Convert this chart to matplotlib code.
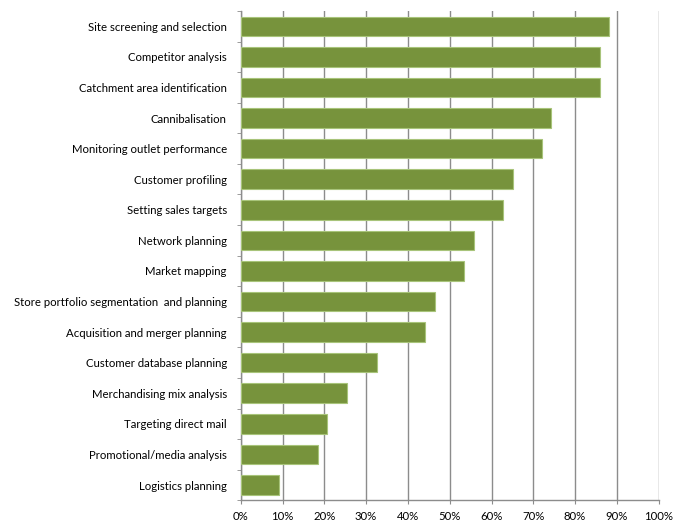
import numpy as np
import matplotlib
matplotlib.use('Agg')
from matplotlib import pyplot as plt
from matplotlib.ticker import FixedLocator, PercentFormatter

categories = [
    "Site screening and selection",
    "Competitor analysis",
    "Catchment area identification",
    "Cannibalisation",
    "Monitoring outlet performance",
    "Customer profiling",
    "Setting sales targets",
    "Network planning",
    "Market mapping",
    "Store portfolio segmentation  and planning",
    "Acquisition and merger planning",
    "Customer database planning",
    "Merchandising mix analysis",
    "Targeting direct mail",
    "Promotional/media analysis",
    "Logistics planning",
]
values = [88.2, 86.0, 86.0, 74.3, 72.1, 65.1, 62.8, 55.7, 53.5, 46.4, 44.2,
          32.5, 25.5, 20.7, 18.4, 9.2]

plt.rcParams['font.family'] = ['Lato', 'DejaVu Sans']

fig = plt.figure(figsize=(6.75, 5.26), dpi=100)
ax = fig.add_axes([240.7 / 675, 1 - 500.3 / 526, 418 / 675, (500.3 - 11) / 526])

n = len(categories)
y = np.arange(n)[::-1]
ax.barh(y, values, height=0.64, color='#77933C', edgecolor='#A8C47A',
        linewidth=0.8, zorder=3)

ax.set_xlim(0, 100)
ax.set_ylim(-0.5, n - 0.5)
ax.set_xticks(np.arange(0, 101, 10))
ax.xaxis.set_major_formatter(PercentFormatter(decimals=0))
ax.set_yticks(y)
ax.set_yticklabels(categories)
ax.yaxis.set_minor_locator(FixedLocator(np.arange(-0.5, n, 1)))

ax.grid(axis='x', color='#8c8c8c', linewidth=1.0, zorder=0)
for s in ['top', 'right']:
    ax.spines[s].set_visible(False)
for s in ['left', 'bottom']:
    ax.spines[s].set_color('#8c8c8c')
    ax.spines[s].set_linewidth(1.0)

ax.tick_params(axis='y', which='major', length=0, pad=10, labelsize=8.2,
               colors='black')
ax.tick_params(axis='y', which='minor', length=3, color='#8c8c8c')
ax.tick_params(axis='x', length=3, color='#8c8c8c', labelsize=8.2, pad=5)

fig.savefig('out.png', dpi=100)
